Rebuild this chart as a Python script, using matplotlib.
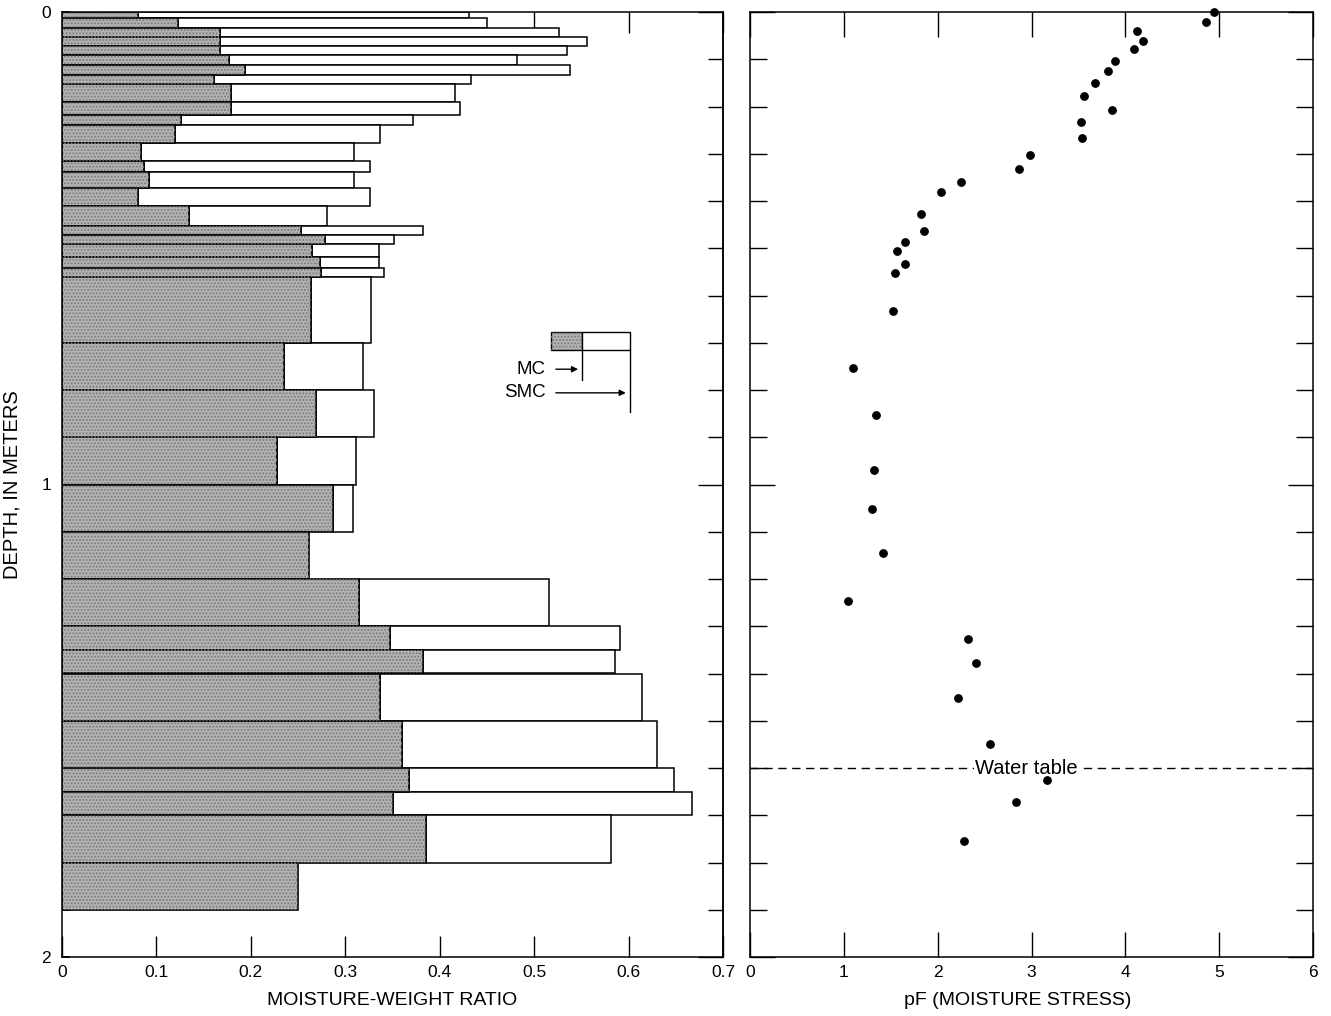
import numpy as np
import matplotlib
matplotlib.use("Agg")
import matplotlib.pyplot as plt
from matplotlib.patches import Rectangle
from matplotlib.ticker import MultipleLocator, FixedLocator

plt.rcParams['font.family'] = ['Liberation Sans', 'DejaVu Sans']
plt.rcParams['hatch.linewidth'] = 0.9

nan = np.nan
# ---------------- data ----------------
depth_top = [0.000, 0.013, 0.033, 0.052, 0.071, 0.091, 0.112, 0.133, 0.152, 0.190,
             0.218, 0.239, 0.278, 0.315, 0.338, 0.372, 0.410, 0.452, 0.472, 0.492,
             0.518, 0.541, 0.560, 0.70, 0.80, 0.90, 1.00, 1.10, 1.20, 1.30,
             1.35, 1.40, 1.50, 1.60, 1.65, 1.70, 1.80]
depth_bottom = depth_top[1:] + [1.90]
mc = [0.080, 0.123, 0.167, 0.167, 0.167, 0.177, 0.194, 0.161, 0.179, 0.179,
      0.126, 0.120, 0.084, 0.087, 0.092, 0.081, 0.135, 0.253, 0.278, 0.265,
      0.273, 0.274, 0.264, 0.235, 0.269, 0.228, 0.287, 0.262, 0.314, 0.347,
      0.382, 0.337, 0.360, 0.368, 0.350, 0.385, 0.250]
smc = [0.431, 0.450, 0.526, 0.556, 0.535, 0.482, 0.538, 0.433, 0.416, 0.422,
       0.372, 0.337, 0.309, 0.326, 0.309, 0.326, 0.281, 0.382, 0.352, 0.336,
       0.336, 0.341, 0.327, 0.319, 0.330, 0.311, 0.308, nan, 0.516, 0.591,
       0.586, 0.614, 0.630, 0.648, 0.667, 0.581, nan]

pf_values = [4.95, 4.86, 4.12, 4.19, 4.09, 3.89, 3.81, 3.68, 3.56, 3.86,
             3.53, 3.54, 2.98, 2.87, 2.25, 2.04, 1.82, 1.85, 1.65, 1.57,
             1.65, 1.54, 1.52, 1.10, 1.34, 1.32, 1.30, 1.42, 1.04, 2.32,
             2.41, 2.22, 2.56, 3.16, 2.84, 2.28]
pf_depth = [0.0, 0.021, 0.041, 0.061, 0.078, 0.103, 0.124, 0.150, 0.177, 0.208,
            0.232, 0.266, 0.303, 0.333, 0.360, 0.382, 0.428, 0.463, 0.486, 0.505,
            0.533, 0.553, 0.632, 0.754, 0.853, 0.969, 1.051, 1.146, 1.247, 1.326,
            1.378, 1.451, 1.550, 1.626, 1.671, 1.754]

water_table_depth = 1.6
mwr_ticks = [0, 0.1, 0.2, 0.3, 0.4, 0.5, 0.6, 0.7]
mwr_labels = ['0', '0.1', '0.2', '0.3', '0.4', '0.5', '0.6', '0.7']
pf_ticks = [0, 1, 2, 3, 4, 5, 6]
depth_ticks = [0, 1, 2]

# ---------------- figure ----------------
W, H = 1331, 1016
fig = plt.figure(figsize=(W / 100, H / 100), dpi=100)
ax1 = fig.add_axes([62 / W, 1 - 957 / H, (723 - 62) / W, (957 - 12) / H])
ax2 = fig.add_axes([750 / W, 1 - 957 / H, (1313 - 750) / W, (957 - 12) / H])

shade = '#b2b2b2'
dots = '#7a7a7a'
top = np.array(depth_top)
bot = np.array(depth_bottom)
thick = bot - top
centers = (top + bot) / 2
mc_a = np.array(mc)
smc_a = np.array(smc)
has = ~np.isnan(smc_a)

# SMC white bars (from MC to SMC)
ax1.barh(centers[has], smc_a[has] - mc_a[has], height=thick[has], left=mc_a[has],
         color='white', edgecolor='black', linewidth=1.1, zorder=2)
# MC shaded bars
ax1.barh(centers, mc_a, height=thick, left=0, color=shade, edgecolor='black',
         linewidth=1.2, zorder=3)
ax1.barh(centers, mc_a, height=thick, left=0, color='none', edgecolor=dots,
         linewidth=0, hatch='.....', zorder=3.5)

ax1.set_xlim(0, 0.7)
ax1.set_ylim(2, 0)
ax1.xaxis.set_major_locator(FixedLocator(mwr_ticks))
ax1.set_xticklabels(mwr_labels)
ax1.yaxis.set_major_locator(FixedLocator(depth_ticks))
ax1.yaxis.set_minor_locator(MultipleLocator(0.1))
ax1.tick_params(axis='x', which='major', direction='in', length=15, width=1,
                top=True, bottom=True, labelsize=12.5, pad=6)
ax1.tick_params(axis='y', which='major', direction='in', length=6, width=1.2,
                left=True, right=False, labelsize=12.5, pad=8)
ax1.tick_params(axis='y', which='minor', direction='in', length=5, width=1.2,
                left=True, right=False)
sec = ax1.secondary_yaxis('right')
sec.yaxis.set_major_locator(FixedLocator(depth_ticks))
sec.yaxis.set_minor_locator(MultipleLocator(0.1))
sec.tick_params(axis='y', which='major', direction='in', length=18, width=1, labelright=False)
sec.tick_params(axis='y', which='minor', direction='in', length=11, width=1)
sec.spines['right'].set_linewidth(1.1)
for s in ax1.spines.values():
    s.set_linewidth(1.1)
    s.set_zorder(5)
ax1.set_xlabel('MOISTURE-WEIGHT RATIO', fontsize=14)
ax1.xaxis.set_label_coords(0.5, -0.037)
ax1.set_ylabel('DEPTH, IN METERS', fontsize=14.5, labelpad=14)

# legend inset
lg_y0, lg_y1 = 0.677, 0.716
ax1.add_patch(Rectangle((0.518, lg_y0), 0.5505 - 0.518, lg_y1 - lg_y0,
                        facecolor=shade, edgecolor='black', lw=1.0, zorder=4))
ax1.add_patch(Rectangle((0.518, lg_y0), 0.5505 - 0.518, lg_y1 - lg_y0,
                        facecolor='none', edgecolor=dots, lw=0, hatch='.....', zorder=4))
ax1.add_patch(Rectangle((0.5505, lg_y0), 0.601 - 0.5505, lg_y1 - lg_y0,
                        facecolor='white', edgecolor='black', lw=1.0, zorder=4))
ax1.plot([0.5505, 0.5505], [lg_y1, 0.779], color='black', lw=1.0, zorder=4)
ax1.plot([0.601, 0.601], [lg_y1, 0.846], color='black', lw=1.0, zorder=4)
ax1.annotate('', xy=(0.5495, 0.756), xytext=(0.520, 0.756),
             arrowprops=dict(arrowstyle='-|>', color='black', lw=1.0, mutation_scale=9))
ax1.annotate('', xy=(0.600, 0.806), xytext=(0.520, 0.806),
             arrowprops=dict(arrowstyle='-|>', color='black', lw=1.0, mutation_scale=9))
ax1.text(0.512, 0.756, 'MC', ha='right', va='center', fontsize=13.5)
ax1.text(0.512, 0.806, 'SMC', ha='right', va='center', fontsize=13.5)

# ---------------- right panel ----------------
ax2.scatter(pf_values, pf_depth, s=28, color='black', zorder=4, clip_on=False)
ax2.set_xlim(0, 6)
ax2.set_ylim(2, 0)
ax2.xaxis.set_major_locator(FixedLocator(pf_ticks))
ax2.yaxis.set_major_locator(FixedLocator(depth_ticks))
ax2.yaxis.set_minor_locator(MultipleLocator(0.1))
ax2.tick_params(axis='x', which='major', direction='in', length=18, width=1,
                top=True, bottom=True, labelsize=12.5, pad=6)
ax2.tick_params(axis='y', which='major', direction='in', length=18, width=1,
                left=True, right=True, labelleft=False)
ax2.tick_params(axis='y', which='minor', direction='in', length=12, width=1,
                left=True, right=True)
for s in ax2.spines.values():
    s.set_linewidth(1.1)
ax2.set_xlabel('pF (MOISTURE STRESS)', fontsize=14)
ax2.xaxis.set_label_coords(0.475, -0.037)

ax2.axhline(water_table_depth, color='black', lw=1.0, ls=(0, (6, 4)), zorder=2)
ax2.text(2.95, water_table_depth, 'Water table', ha='center', va='center',
         fontsize=14.5, zorder=3,
         bbox=dict(facecolor='white', edgecolor='none', pad=1.0))

fig.savefig('out.png', dpi=100)
